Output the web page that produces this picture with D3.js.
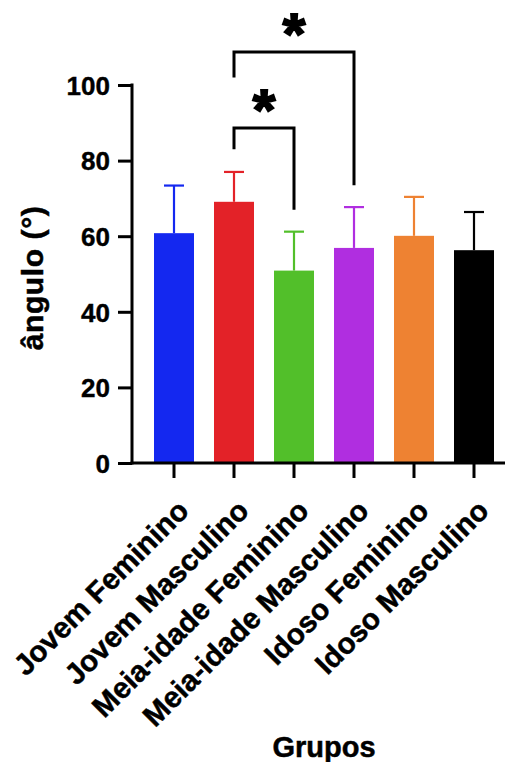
<!DOCTYPE html>
<html>
<head>
<meta charset="utf-8">
<script src="https://cdn.jsdelivr.net/npm/d3@7"></script>
<style>
  body { margin: 0; background: #fff; }
  text { font-family: "Liberation Sans", Arial, Helvetica, sans-serif; font-weight: bold; fill: #000; }
</style>
</head>
<body>
<div id="chart"></div>
<script>
var groups = ["Jovem Feminino", "Jovem Masculino", "Meia-idade Feminino",
              "Meia-idade Masculino", "Idoso Feminino", "Idoso Masculino"];
var means = [60.8, 69.1, 50.9, 56.9, 60.1, 56.3];
var sds = [12.6, 7.9, 10.3, 10.8, 10.3, 10.1];
var colors = ["#1428f0", "#e32228", "#52bf2a", "#b02ee0", "#ee8232", "#000000"];
var yTicks = [0, 20, 40, 60, 80, 100];

// significance brackets (in data units)
var sigFrom = ["Jovem Masculino", "Jovem Masculino"];
var sigTo = ["Meia-idade Feminino", "Meia-idade Masculino"];
var sigLevel = [88.6, 108.7];
var sigLeftEnd = [83, 102];
var sigRightEnd = [67, 73.5];

var W = 507, H = 762;
var axisX = 132, baseY = 463, topY = 85;

var svg = d3.select("#chart").append("svg")
  .attr("width", W).attr("height", H);

var x = d3.scaleBand()
  .domain(groups)
  .range([144, 504])
  .paddingInner(1 / 3)
  .paddingOuter(1 / 6);

var y = d3.scaleLinear()
  .domain([0, 100])
  .range([baseY, topY]);

var data = groups.map(function(g, i) {
  return {group: g, mean: means[i], sd: sds[i], color: colors[i]};
});

// bars
svg.selectAll(".bar")
  .data(data)
  .enter().append("rect")
  .attr("class", "bar")
  .attr("x", function(d) { return x(d.group); })
  .attr("width", x.bandwidth())
  .attr("y", function(d) { return y(d.mean); })
  .attr("height", function(d) { return y(0) - y(d.mean); })
  .attr("fill", function(d) { return d.color; });

// error bars (upper only)
var err = svg.selectAll(".err")
  .data(data)
  .enter().append("g")
  .attr("class", "err")
  .attr("stroke", function(d) { return d.color; })
  .attr("stroke-width", 2.2);

err.append("line")
  .attr("x1", function(d) { return x(d.group) + x.bandwidth() / 2; })
  .attr("x2", function(d) { return x(d.group) + x.bandwidth() / 2; })
  .attr("y1", function(d) { return y(d.mean); })
  .attr("y2", function(d) { return y(d.mean + d.sd); });

err.append("line")
  .attr("x1", function(d) { return x(d.group) + x.bandwidth() / 2 - 10; })
  .attr("x2", function(d) { return x(d.group) + x.bandwidth() / 2 + 10; })
  .attr("y1", function(d) { return y(d.mean + d.sd); })
  .attr("y2", function(d) { return y(d.mean + d.sd); });

// y axis
var yAxis = svg.append("g")
  .attr("transform", "translate(" + axisX + ",0)")
  .call(d3.axisLeft(y).tickValues(yTicks).tickSize(14).tickPadding(8));
yAxis.select(".domain").remove();
yAxis.selectAll(".tick line").attr("stroke", "#000").attr("stroke-width", 3);
yAxis.selectAll(".tick text")
  .style("font-size", "26px")
  .style("stroke", "#000").style("stroke-width", 0.4)
  .attr("dy", "0.36em");
svg.append("line")
  .attr("x1", axisX).attr("x2", axisX)
  .attr("y1", y(100) - 1.5).attr("y2", y(0) + 1.5)
  .attr("stroke", "#000").attr("stroke-width", 3);

// x axis
var xAxis = svg.append("g")
  .attr("transform", "translate(0," + baseY + ")")
  .call(d3.axisBottom(x).tickSize(15).tickPadding(0));
xAxis.select(".domain").remove();
xAxis.selectAll(".tick line").attr("stroke", "#000").attr("stroke-width", 3);
xAxis.selectAll(".tick text")
  .style("font-size", "29.5px")
  .style("stroke", "#000").style("stroke-width", 0.5)
  .attr("text-anchor", "end")
  .attr("dy", "0")
  .attr("transform", "translate(6,39) rotate(-45)");
svg.append("line")
  .attr("x1", axisX - 1.5).attr("x2", 505)
  .attr("y1", baseY).attr("y2", baseY)
  .attr("stroke", "#000").attr("stroke-width", 3);

// significance brackets
sigFrom.forEach(function(f, i) {
  var x1 = x(f) + x.bandwidth() / 2;
  var x2 = x(sigTo[i]) + x.bandwidth() / 2;
  svg.append("path")
    .attr("d", "M" + x1 + "," + y(sigLeftEnd[i]) +
               "V" + y(sigLevel[i]) +
               "H" + x2 +
               "V" + y(sigRightEnd[i]))
    .attr("fill", "none")
    .attr("stroke", "#000")
    .attr("stroke-width", 3);
  svg.append("text")
    .attr("x", (x1 + x2) / 2)
    .attr("y", y(sigLevel[i]) + 2)
    .attr("text-anchor", "middle")
    .style("font-size", "58px")
    .style("stroke", "#000").style("stroke-width", 2)
    .text("*");
});

// axis titles
svg.append("text")
  .attr("transform", "translate(43,278) rotate(-90)")
  .attr("text-anchor", "middle")
  .style("font-size", "30px")
  .style("letter-spacing", "0.6px")
  .style("stroke", "#000").style("stroke-width", 0.5)
  .text("ângulo (°)");

svg.append("text")
  .attr("x", 324)
  .attr("y", 757)
  .attr("text-anchor", "middle")
  .style("font-size", "29px")
  .style("stroke", "#000").style("stroke-width", 0.5)
  .text("Grupos");
</script>
</body>
</html>
